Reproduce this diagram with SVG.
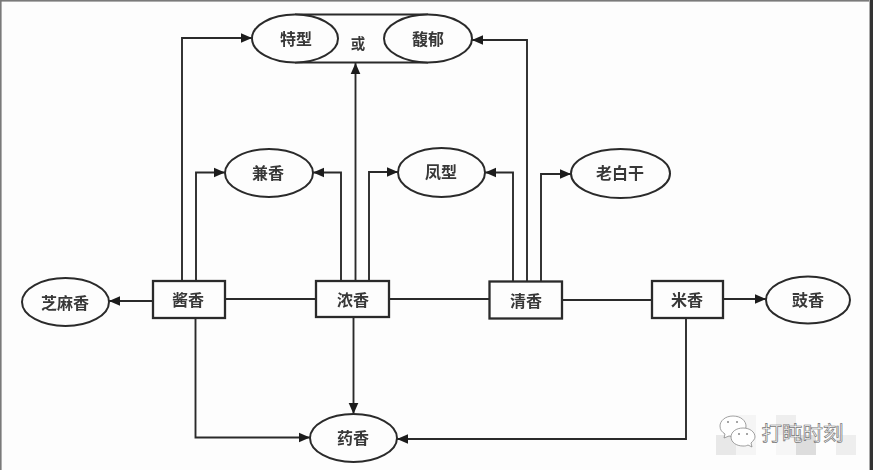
<svg xmlns="http://www.w3.org/2000/svg" width="873" height="470" viewBox="0 0 873 470">
<defs>
<style>
.bg{fill:#fdfdfd}
.s{fill:none;stroke:#2b2b2b;stroke-width:1.9}
.n{fill:#fdfdfd;stroke:#2b2b2b;stroke-width:2}
.r{fill:#fdfdfd;stroke:#2b2b2b;stroke-width:2.300}
text.t{font-family:"Noto Sans CJK SC","Liberation Sans",sans-serif;font-size:16px;font-weight:700;fill:#383838;text-anchor:middle}
text.w{font-family:"Noto Sans CJK SC","Liberation Sans",sans-serif;font-size:20.5px;font-weight:400;fill:#fff;stroke:#777;stroke-width:.7;text-anchor:middle}
</style>
<marker id="a" markerUnits="userSpaceOnUse" markerWidth="12" markerHeight="12" refX="11" refY="6" orient="auto">
<path d="M0 1.200L11 6L0 10.800Z" fill="#1c1c1c"/>
</marker>
<filter id="soft" filterUnits="userSpaceOnUse" x="0" y="0" width="873" height="470"><feGaussianBlur stdDeviation="0.35"/></filter>
</defs>
<rect class="bg" width="873" height="470"/>
<g id="frame">
<rect width="873" height="1.6" fill="#7a7a7a"/>
<rect width="1.6" height="470" fill="#7a7a7a"/>
<rect x="869" width="1.2" height="470" fill="#aaa"/>
<rect x="870" width="3" height="470" fill="#333"/>
</g>
<g filter="url(#soft)">
<g id="connectors">
<path class="s" marker-end="url(#a)" d="M182 281V38H252"/>
<path class="s" marker-end="url(#a)" d="M196 281V172.500H225"/>
<path class="s" marker-end="url(#a)" d="M195.500 318V437.500H310"/>
<path class="s" marker-end="url(#a)" d="M153 301H109"/>
<path class="s" d="M225 299H316"/>
<path class="s" marker-end="url(#a)" d="M341 281V172.500H313"/>
<path class="s" marker-end="url(#a)" d="M355.500 281V63"/>
<path class="s" marker-end="url(#a)" d="M369 281V172H398"/>
<path class="s" marker-end="url(#a)" d="M353.500 317V414"/>
<path class="s" d="M389 299H489"/>
<path class="s" marker-end="url(#a)" d="M513 281V172.500H485"/>
<path class="s" marker-end="url(#a)" d="M527 281V40H472"/>
<path class="s" marker-end="url(#a)" d="M541 281V174H571"/>
<path class="s" d="M562 300H652"/>
<path class="s" marker-end="url(#a)" d="M723 299H766"/>
<path class="s" marker-end="url(#a)" d="M686 318V439H397"/>
</g>
<g id="node-capsule">
<path class="s" d="M295 14.500H428M295 62.500H428"/>
<ellipse class="n" cx="295" cy="38.500" rx="43" ry="24"/>
<ellipse class="n" cx="428" cy="38.500" rx="44" ry="24"/>
<text class="t" x="296" y="44.500">特型</text>
<text class="t" x="358" y="49" style="font-size:14.500px">或</text>
<text class="t" x="428" y="45">馥郁</text>
</g>
<g id="node-jianxiang"><ellipse class="n" cx="269" cy="173" rx="44" ry="24"/><text class="t" x="268" y="178.500">兼香</text></g>
<g id="node-fengxing"><ellipse class="n" cx="441.500" cy="172.500" rx="43.500" ry="24.500"/><text class="t" x="441" y="178">凤型</text></g>
<g id="node-laobaigan"><ellipse class="n" cx="620.500" cy="173.500" rx="49.500" ry="24.500"/><text class="t" x="620" y="179">老白干</text></g>
<g id="node-zhimaxiang"><ellipse class="n" cx="65.500" cy="302" rx="43.500" ry="24"/><text class="t" x="65" y="308.500">芝麻香</text></g>
<g id="node-jiangxiang"><rect class="r" x="153" y="281" width="72" height="37"/><text class="t" x="188" y="305.500">酱香</text></g>
<g id="node-nongxiang"><rect class="r" x="316" y="281" width="73" height="36"/><text class="t" x="353" y="305.500">浓香</text></g>
<g id="node-qingxiang"><rect class="r" x="489.500" y="281.500" width="72.500" height="37"/><text class="t" x="526" y="306.500">清香</text></g>
<g id="node-mixiang"><rect class="r" x="652" y="281" width="71" height="37"/><text class="t" x="687" y="305.500">米香</text></g>
<g id="node-chixiang"><ellipse class="n" cx="808" cy="300" rx="42" ry="23.500"/><text class="t" x="808" y="305.500">豉香</text></g>
<g id="node-yaoxiang"><ellipse class="n" cx="353.500" cy="438" rx="43.500" ry="24"/><text class="t" x="353" y="443.500">药香</text></g>
</g>
<g id="watermark">
<rect x="716" y="435" width="20" height="20" fill="#e8e8e8"/>
<rect x="736" y="415" width="20" height="40" fill="#f5f5f5"/>
<rect x="776" y="415" width="20" height="20" fill="#eeeeee"/>
<rect x="776" y="435" width="20" height="20" fill="#f6f6f6"/>
<rect x="796" y="435" width="20" height="20" fill="#dddddd"/>
<rect x="836" y="435" width="20" height="20" fill="#eeeeee"/>
<path d="M733 416C725 416 720 421 720 426C720 430 722 432 725 434L724 438L729 436C731 436.500 733 436.500 735 436.500C741 436.500 746 432 746 426C746 421 741 416 733 416Z" fill="#fff" stroke="#888" stroke-width=".8"/>
<path d="M743 428C736 428 731 432 731 437C731 442 736 446 743 446C745 446 746 446 748 445L752 447L751 443C753 441 755 439 755 437C755 432 750 428 743 428Z" fill="#fff" stroke="#888" stroke-width=".8"/>
<g fill="#888"><circle cx="728" cy="422" r="1"/><circle cx="737" cy="422" r="1"/><circle cx="739" cy="434" r="1"/><circle cx="747" cy="434" r="1"/></g>
<text class="w" x="802.500" y="441">打盹时刻</text>
</g>
</svg>
